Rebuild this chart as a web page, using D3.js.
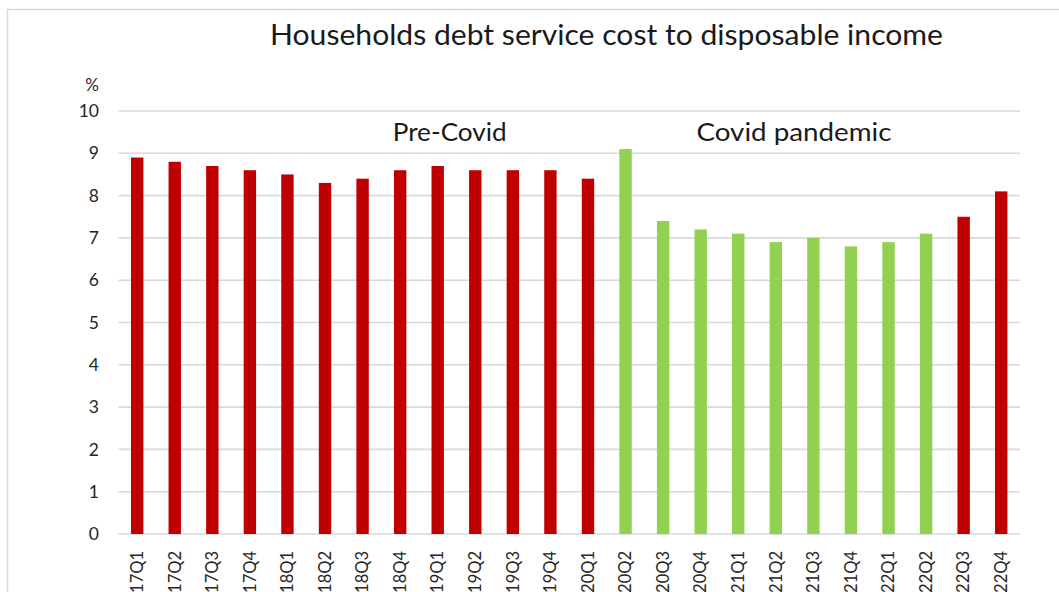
<!DOCTYPE html>
<html>
<head>
<meta charset="utf-8">
<script src="https://cdn.jsdelivr.net/npm/d3@7"></script>
<style>
  html, body { margin: 0; padding: 0; background: #fff; overflow: hidden; }
  svg { display: block; }
  text { font-family: Lato, "Open Sans", "Liberation Sans", sans-serif; }
</style>
</head>
<body>
<svg id="chart" width="1059" height="592"></svg>
<script>
// Quarterly households debt service cost, % of disposable income
const quarters = [
  "2017Q1","2017Q2","2017Q3","2017Q4",
  "2018Q1","2018Q2","2018Q3","2018Q4",
  "2019Q1","2019Q2","2019Q3","2019Q4",
  "2020Q1","2020Q2","2020Q3","2020Q4",
  "2021Q1","2021Q2","2021Q3","2021Q4",
  "2022Q1","2022Q2","2022Q3","2022Q4"
];
const ratio = [
  8.9, 8.8, 8.7, 8.6,
  8.5, 8.3, 8.4, 8.6,
  8.7, 8.6, 8.6, 8.6,
  8.4, 9.1, 7.4, 7.2,
  7.1, 6.9, 7.0, 6.8,
  6.9, 7.1, 7.5, 8.1
];
// "normal" quarters in red, pandemic quarters in green
const phase = [
  "normal","normal","normal","normal",
  "normal","normal","normal","normal",
  "normal","normal","normal","normal",
  "normal","pandemic","pandemic","pandemic",
  "pandemic","pandemic","pandemic","pandemic",
  "pandemic","pandemic","normal","normal"
];
const yTicks = [0, 1, 2, 3, 4, 5, 6, 7, 8, 9, 10];
const titleText = "Households debt service cost to disposable income";
const periodLabels = ["Pre-Covid", "Covid pandemic"];

const svg = d3.select("#chart");

// chart frame
svg.append("rect")
  .attr("x", 7.5).attr("y", 9.5)
  .attr("width", 1100).attr("height", 700)
  .attr("fill", "#fff")
  .attr("stroke", "#d9d9d9").attr("stroke-width", 1.5);

const x = d3.scaleBand()
  .domain(quarters)
  .range([118.4, 1020])
  .paddingInner(0.67)
  .paddingOuter(0.335);

const y = d3.scaleLinear().domain([0, 10]).range([534, 111]);

const color = d3.scaleOrdinal()
  .domain(["normal", "pandemic"])
  .range(["#c00000", "#92d050"]);

// horizontal gridlines
svg.append("g")
  .selectAll("line")
  .data(yTicks)
  .join("line")
  .attr("x1", 118.4).attr("x2", 1020)
  .attr("y1", d => y(d)).attr("y2", d => y(d))
  .attr("stroke", "#d9d9d9")
  .attr("stroke-width", 1.6);

// y axis labels
const yAxis = d3.axisLeft(y).tickValues(yTicks).tickSize(0).tickPadding(0);
const gy = svg.append("g").attr("transform", "translate(99,0)").call(yAxis);
gy.select(".domain").remove();
gy.selectAll("text")
  .attr("font-size", 17.5)
  .attr("fill", "#262626")
  .style("font-family", "Lato, sans-serif");

svg.append("text")
  .attr("x", 99).attr("y", 91)
  .attr("text-anchor", "end")
  .attr("font-size", 17)
  .attr("fill", "#262626")
  .text("%");

// bars
const data = quarters.map((q, i) => ({ q, v: ratio[i], p: phase[i] }));
svg.append("g")
  .selectAll("rect")
  .data(data)
  .join("rect")
  .attr("x", d => x(d.q))
  .attr("width", x.bandwidth())
  .attr("y", d => y(d.v))
  .attr("height", d => y(0) - y(d.v))
  .attr("fill", d => color(d.p));

// x axis category labels, rotated
const xAxis = d3.axisBottom(x).tickSize(0).tickPadding(0);
const gx = svg.append("g").attr("transform", "translate(0,551)").call(xAxis);
gx.select(".domain").remove();
gx.selectAll("text")
  .attr("transform", "rotate(-90)")
  .attr("x", 0).attr("y", 0).attr("dy", "0.35em")
  .attr("text-anchor", "end")
  .attr("font-size", 16.5)
  .attr("fill", "#262626")
  .style("font-family", "Lato, sans-serif");

// title
svg.append("text")
  .attr("x", 606.5).attr("y", 45)
  .attr("text-anchor", "middle")
  .attr("font-size", 29)
  .attr("fill", "#1a1a1a")
  .attr("textLength", 673)
  .attr("lengthAdjust", "spacingAndGlyphs")
  .text(titleText);

// period annotations
const periodPos = [{ cx: 449.7, w: 114 }, { cx: 794, w: 195 }];
svg.append("g")
  .selectAll("text")
  .data(periodLabels)
  .join("text")
  .attr("x", (d, i) => periodPos[i].cx)
  .attr("y", 141)
  .attr("text-anchor", "middle")
  .attr("font-size", 25)
  .attr("fill", "#1a1a1a")
  .attr("textLength", (d, i) => periodPos[i].w)
  .attr("lengthAdjust", "spacingAndGlyphs")
  .text(d => d);
</script>
</body>
</html>
